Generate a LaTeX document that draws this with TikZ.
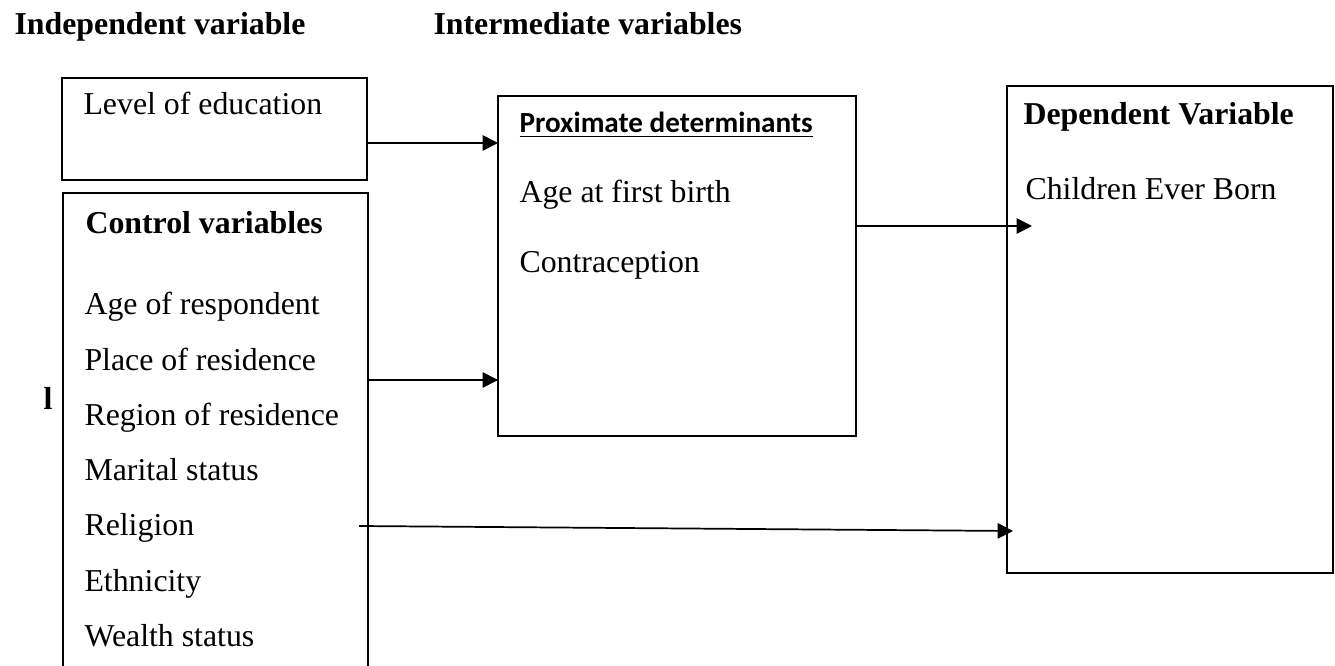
\documentclass[tikz,border=0pt]{standalone}
\usepackage{fontspec}
\setmainfont{Liberation Serif}
\newfontfamily\calibrifont{Carlito}
\usetikzlibrary{arrows.meta,fit}

\begin{document}
\begin{tikzpicture}[x=0.377pt, y=-0.377pt,
    box/.style={draw, line width=0.75pt, inner sep=0pt, outer sep=0pt},
    txt/.style={anchor=base west, inner sep=0pt, font=\fontsize{12}{14}\selectfont},
    headtxt/.style={txt, font=\fontsize{12}{14}\selectfont\bfseries},
    arr/.style={line width=0.65pt, -{Triangle[length=5.8pt, width=5.8pt]}}]

    \useasboundingbox[fill=white] (0,0) rectangle (1335,666);
    \clip (0,0) rectangle (1335,666);

    % Column titles
    \node[headtxt] (indeptitle) at (14,35) {Independent variable};
    \node[headtxt] (intertitle) at (433,35) {Intermediate variables};

    % Level of education
    \node[box, fit={(62,78) (367,180)}] (edu) {};
    \node[txt] (edutxt) at (83,115) {Level of education};

    % Control variables (runs past the bottom edge)
    \node[box, fit={(63,193) (368,700)}] (ctrl) {};
    \node[headtxt] (ctrlhead) at (85,234) {Control variables};
    \foreach \lbl [count=\i from 0] in {Age of respondent, Place of residence,
        Region of residence, Marital status, Religion, Ethnicity, Wealth status} {
        \node[txt] (ctrlitem\i) at (84,315+55.2*\i) {\lbl};
    }
    \node[headtxt] (stray) at (43,410) {l};

    % Proximate determinants
    \node[box, fit={(498,96) (856,436)}] (prox) {};
    \node[txt, font=\fontsize{11}{13}\selectfont\calibrifont\bfseries] (proxhead) at (519,133) {\underline{Proximate determinants}};
    \node[txt] (proxfirst) at (519,203) {Age at first birth};
    \node[txt] (proxcontra) at (519,273) {Contraception};

    % Dependent variable
    \node[box, fit={(1007,86) (1333,573)}] (dep) {};
    \node[headtxt] (dephead) at (1023,125) {Dependent Variable};
    \node[txt] (deptxt) at (1025,200) {Children Ever Born};

    % Connectors
    \coordinate (cebend) at (1032,226);
    \coordinate (relstart) at (359,526);
    \coordinate (relend) at (1013,531);
    \draw[arr] (edu.east |- 0,143) -- (prox.west |- 0,143);
    \draw[arr] (ctrl.east |- 0,380) -- (prox.west |- 0,380);
    \draw[arr] (prox.east |- cebend) -- (cebend);
    \draw[arr] (relstart) -- (relend);

\end{tikzpicture}
\end{document}
